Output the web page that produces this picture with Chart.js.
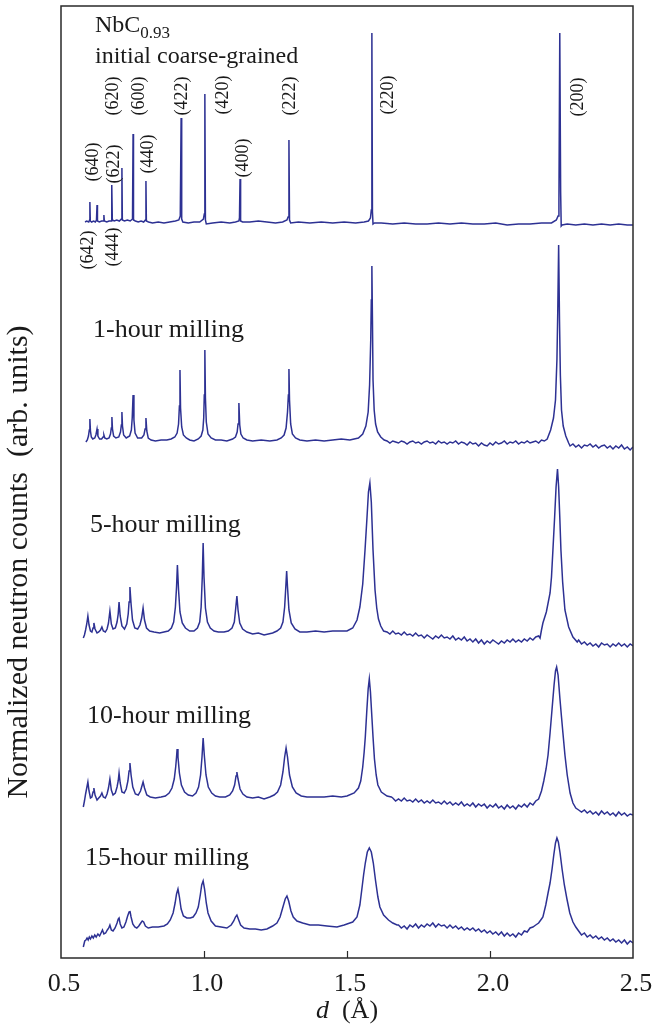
<!DOCTYPE html>
<html lang="en">
<head>
<meta charset="UTF-8">
<title>NbC0.93 neutron diffraction - milling series</title>
<script src="https://cdn.jsdelivr.net/npm/chart.js"></script>
<style>
  html, body { margin: 0; padding: 0; background: #fff; }
  #wrap { width: 654px; height: 1026px; position: relative; }
</style>
</head>
<body>
<div id="wrap"><canvas id="chart"></canvas></div>
<script>
// x axis (d-spacing, Angstrom)
const xTicks = [0.5, 1.0, 1.5, 2.0, 2.5];

// panel labels and vertical offsets of each pattern (arb. units)
const panelNames = ['initial coarse-grained', '1-hour milling', '5-hour milling', '10-hour milling', '15-hour milling'];
const panelBaseline = [736, 518, 326, 161, 31];

// [d, counts above panel baseline]
const initialCoarse = [
  [0.584,0],[0.590,1],[0.597,0],[0.600,2],[0.601,20],[0.6025,1],[0.607,0],[0.614,1],[0.620,0],[0.624,2],[0.626,17],[0.6275,1],
  [0.634,0],[0.642,1],[0.648,1],[0.650,7],[0.6515,1],[0.660,0],[0.668,1],[0.675,1],[0.677,4],[0.678,37],[0.6795,2],[0.686,1],
  [0.695,2],[0.704,1],[0.711,3],[0.713,54],[0.7145,2],[0.722,1],[0.732,2],[0.742,1],[0.750,3],[0.752,88],[0.7535,2],[0.760,1],
  [0.770,0],[0.780,1],[0.789,0],[0.795,2],[0.797,41],[0.7985,1],[0.806,0],[0.820,-1],[0.840,0],[0.860,-1],[0.880,0],[0.900,1],
  [0.912,2],[0.917,6],[0.920,104],[0.922,3],[0.926,0],[0.945,-1],[0.965,0],[0.985,0],[0.998,3],[1.001,8],[1.003,128],[1.005,2],
  [1.008,-2],[1.030,-1],[1.060,0],[1.090,-1],[1.110,0],[1.122,1],[1.124,4],[1.126,43],[1.128,1],[1.135,0],[1.160,0],[1.190,1],
  [1.220,0],[1.250,-1],[1.275,0],[1.290,2],[1.294,5],[1.297,82],[1.299,2],[1.303,-1],[1.330,0],[1.370,-1],[1.410,0],[1.450,-1],
  [1.490,0],[1.530,-1],[1.560,0],[1.575,1],[1.582,4],[1.585,12],[1.587,189],[1.589,10],[1.591,-2],[1.596,-1],[1.620,-1],[1.660,-2],
  [1.700,-1],[1.740,-2],[1.780,-2],[1.820,-1],[1.860,-2],[1.900,-1],[1.940,-2],[1.980,-2],[2.020,-1],[2.060,-3],[2.100,-2],[2.140,-2],
  [2.180,-1],[2.215,-1],[2.232,2],[2.238,6],[2.241,20],[2.244,189],[2.247,30],[2.249,-4],[2.252,-3],[2.270,-2],[2.300,-3],[2.330,-2],
  [2.360,-3],[2.390,-2],[2.420,-3],[2.450,-2],[2.480,-3],[2.500,-3]
];

const milled1h = [
  [0.587,-2],[0.592,0],[0.596,4],[0.599,10],[0.601,21],[0.603,9],[0.606,3],[0.611,1],[0.618,2],[0.622,5],[0.626,11],[0.629,4],
  [0.635,1],[0.642,1],[0.647,3],[0.650,5],[0.653,2],[0.660,1],[0.668,2],[0.673,6],[0.676,12],[0.678,23],[0.680,11],[0.684,4],
  [0.692,2],[0.702,3],[0.708,8],[0.711,15],[0.713,28],[0.715,14],[0.719,5],[0.728,2],[0.740,4],[0.746,10],[0.749,22],[0.752,45],
  [0.755,20],[0.759,7],[0.768,2],[0.782,2],[0.790,5],[0.794,11],[0.797,22],[0.800,9],[0.805,2],[0.815,0],[0.830,-1],[0.850,0],
  [0.870,0],[0.885,1],[0.898,3],[0.906,7],[0.911,16],[0.914,34],[0.916,70],[0.918,32],[0.922,13],[0.928,5],[0.938,2],[0.950,0],
  [0.965,-1],[0.980,1],[0.990,4],[0.996,10],[0.999,22],[1.001,45],[1.003,90],[1.005,42],[1.008,18],[1.014,6],[1.025,2],[1.040,0],
  [1.060,0],[1.080,-1],[1.100,1],[1.110,3],[1.116,8],[1.119,16],[1.122,37],[1.125,15],[1.129,6],[1.137,2],[1.150,0],[1.170,-1],
  [1.200,0],[1.230,-1],[1.255,0],[1.270,2],[1.280,5],[1.287,12],[1.292,28],[1.295,45],[1.297,71],[1.299,40],[1.303,16],[1.309,6],
  [1.320,2],[1.335,0],[1.360,-1],[1.390,0],[1.420,-1],[1.450,0],[1.480,1],[1.510,0],[1.540,2],[1.555,6],[1.566,14],[1.574,28],
  [1.579,55],[1.583,100],[1.585,140],[1.587,174],[1.589,120],[1.591,60],[1.595,30],[1.600,16],[1.607,8],[1.618,3],[1.630,0],
  [1.64,-1],[1.65,-3],[1.66,-1],[1.67,-2],[1.68,-3],[1.69,-1],[1.70,-2],[1.71,-4],[1.72,-2],[1.73,-1],[1.74,-3],[1.75,-2],
  [1.76,-4],[1.77,-2],[1.78,-1],[1.79,-3],[1.80,-2],[1.81,-4],[1.82,-1],[1.83,-3],[1.84,-2],[1.85,-4],[1.86,-2],[1.87,-3],
  [1.88,-1],[1.89,-4],[1.90,-2],[1.91,-3],[1.92,-5],[1.93,-2],[1.94,-4],[1.95,-3],[1.96,-6],[1.97,-3],[1.98,-5],[1.99,-6],
  [2.00,-3],[2.01,-5],[2.02,-2],[2.03,-4],[2.04,-3],[2.05,-1],[2.06,-4],[2.07,-2],[2.08,-3],[2.09,-1],[2.10,-4],[2.11,-2],
  [2.12,-3],[2.13,-1],[2.14,-3],[2.15,-2],[2.16,-1],[2.17,-3],[2.18,0],[2.19,-1],[2.200,1],[2.212,10],[2.222,22],[2.229,40],
  [2.234,80],[2.237,130],[2.240,195],[2.243,120],[2.246,65],[2.250,30],[2.256,14],[2.265,4],[2.275,-3],[2.28,-6],[2.29,-4],
  [2.30,-7],[2.31,-5],[2.32,-8],[2.33,-5],[2.34,-6],[2.35,-4],[2.36,-7],[2.37,-5],[2.38,-8],[2.39,-6],[2.40,-5],[2.41,-8],
  [2.42,-6],[2.43,-9],[2.44,-6],[2.45,-8],[2.46,-5],[2.47,-9],[2.48,-7],[2.49,-10],[2.50,-7]
];

const milled5h = [
  [0.578,-6],[0.582,-3],[0.586,2],[0.590,8],[0.594,16],[0.598,7],[0.603,1],[0.608,0],[0.612,4],[0.615,9],[0.619,3],[0.626,-1],
  [0.632,0],[0.638,2],[0.643,5],[0.648,1],[0.655,0],[0.661,3],[0.666,9],[0.671,21],[0.676,8],[0.682,3],[0.690,4],[0.696,10],
  [0.700,18],[0.703,30],[0.707,16],[0.713,6],[0.722,3],[0.730,8],[0.735,18],[0.738,30],[0.741,45],[0.745,28],[0.750,12],[0.758,4],
  [0.768,3],[0.776,7],[0.782,14],[0.787,24],[0.792,12],[0.799,4],[0.810,1],[0.825,0],[0.845,-1],[0.860,0],[0.875,1],[0.886,4],
  [0.894,10],[0.900,25],[0.904,45],[0.907,67],[0.911,42],[0.916,20],[0.924,9],[0.935,4],[0.950,1],[0.965,1],[0.977,4],[0.985,10],
  [0.990,25],[0.994,55],[0.997,89],[1.000,55],[1.005,24],[1.012,10],[1.022,4],[1.035,1],[1.050,0],[1.070,0],[1.085,1],[1.098,4],
  [1.106,10],[1.111,24],[1.115,36],[1.119,22],[1.125,9],[1.135,3],[1.150,0],[1.170,-2],[1.190,-1],[1.210,-3],[1.225,-2],[1.240,-1],
  [1.255,1],[1.268,4],[1.276,10],[1.282,25],[1.286,45],[1.289,61],[1.292,45],[1.297,22],[1.305,9],[1.318,3],[1.335,0],[1.360,0],
  [1.390,1],[1.420,0],[1.450,1],[1.480,1],[1.500,1],[1.520,4],[1.535,12],[1.545,25],[1.555,48],[1.563,82],[1.570,115],[1.575,140],
  [1.580,149],[1.585,130],[1.591,82],[1.598,42],[1.604,24],[1.610,13],[1.618,6],[1.628,1],
  [1.64,0],[1.65,-2],[1.66,1],[1.67,-2],[1.68,-1],[1.69,-3],[1.70,0],[1.71,-3],[1.72,-2],[1.73,-4],[1.74,-1],[1.75,-4],
  [1.76,-3],[1.77,-6],[1.78,-3],[1.79,-5],[1.80,-7],[1.81,-4],[1.82,-6],[1.83,-3],[1.84,-6],[1.85,-5],[1.86,-7],[1.87,-4],
  [1.88,-8],[1.89,-6],[1.90,-8],[1.91,-5],[1.92,-9],[1.93,-7],[1.94,-10],[1.95,-7],[1.96,-11],[1.97,-8],[1.98,-12],[1.99,-9],
  [2.00,-11],[2.01,-8],[2.02,-10],[2.03,-12],[2.04,-9],[2.05,-11],[2.06,-8],[2.07,-10],[2.08,-7],[2.09,-10],[2.10,-8],[2.11,-10],
  [2.12,-7],[2.13,-9],[2.14,-6],[2.15,-8],[2.16,-5],[2.17,-4],[2.175,-6],[2.180,2],[2.185,9],[2.197,20],[2.210,39],[2.215,55],
  [2.220,82],[2.226,115],[2.231,145],[2.236,163],[2.240,145],[2.244,115],[2.248,82],[2.254,50],[2.262,22],[2.275,5],[2.290,-5],
  [2.305,-10],[2.31,-8],[2.32,-12],[2.33,-10],[2.34,-13],[2.35,-11],[2.36,-14],[2.37,-12],[2.38,-15],[2.39,-11],[2.40,-13],
  [2.41,-12],[2.42,-15],[2.43,-12],[2.44,-14],[2.45,-11],[2.46,-14],[2.47,-12],[2.48,-15],[2.49,-12],[2.50,-14]
];

const milled10h = [
  [0.578,-10],[0.582,-4],[0.586,3],[0.590,9],[0.594,15],[0.598,6],[0.603,-1],[0.608,0],[0.612,5],[0.615,9],[0.619,2],[0.626,-3],
  [0.632,-1],[0.638,1],[0.643,4],[0.648,0],[0.655,-1],[0.661,3],[0.666,9],[0.671,18],[0.676,7],[0.682,2],[0.690,4],[0.696,10],
  [0.700,16],[0.703,24],[0.707,14],[0.713,5],[0.721,4],[0.728,8],[0.734,16],[0.738,26],[0.741,34],[0.745,22],[0.751,10],[0.760,3],
  [0.770,2],[0.778,6],[0.783,11],[0.787,15],[0.792,9],[0.800,2],[0.812,0],[0.830,-1],[0.850,0],[0.865,1],[0.878,4],[0.888,9],
  [0.896,18],[0.901,30],[0.904,40],[0.906,48],[0.909,40],[0.914,24],[0.921,12],[0.932,5],[0.945,2],[0.960,1],[0.972,4],[0.981,10],
  [0.988,22],[0.993,40],[0.997,59],[1.001,42],[1.007,22],[1.015,10],[1.027,4],[1.040,1],[1.055,0],[1.075,0],[1.090,2],[1.100,6],
  [1.107,12],[1.112,21],[1.115,25],[1.119,18],[1.126,8],[1.136,3],[1.150,0],[1.170,-1],[1.190,0],[1.210,-2],[1.230,0],[1.245,2],
  [1.257,5],[1.268,12],[1.276,25],[1.282,40],[1.287,49],[1.292,40],[1.299,22],[1.309,10],[1.322,4],[1.340,1],[1.360,0],[1.390,0],
  [1.420,0],[1.450,1],[1.480,0],[1.500,1],[1.525,4],[1.540,9],[1.548,16],[1.555,30],[1.560,45],[1.564,60],[1.569,85],[1.574,108],
  [1.578,118],[1.582,105],[1.587,80],[1.591,60],[1.596,38],[1.602,22],[1.608,12],[1.620,5],[1.640,1],[1.655,0],
  [1.66,-1],[1.67,-4],[1.68,-2],[1.69,-4],[1.70,-1],[1.71,-4],[1.72,-3],[1.73,-5],[1.74,-2],[1.75,-5],[1.76,-3],[1.77,-6],
  [1.78,-4],[1.79,-6],[1.80,-3],[1.81,-6],[1.82,-5],[1.83,-7],[1.84,-4],[1.85,-7],[1.86,-5],[1.87,-8],[1.88,-6],[1.89,-8],
  [1.90,-5],[1.91,-9],[1.92,-7],[1.93,-9],[1.94,-6],[1.95,-10],[1.96,-7],[1.97,-9],[1.98,-7],[1.99,-11],[2.00,-8],[2.01,-10],
  [2.02,-7],[2.03,-11],[2.04,-9],[2.05,-12],[2.06,-8],[2.07,-11],[2.08,-9],[2.09,-12],[2.10,-8],[2.11,-10],[2.12,-7],[2.13,-10],
  [2.14,-6],[2.15,-8],[2.16,-4],[2.17,-2],[2.18,6],[2.188,16],[2.196,28],[2.203,42],[2.210,64],[2.217,88],[2.224,112],[2.229,126],
  [2.233,130],[2.238,122],[2.244,100],[2.250,80],[2.255,64],[2.262,42],[2.270,22],[2.280,4],[2.290,-6],[2.300,-11],
  [2.31,-13],[2.32,-15],[2.33,-13],[2.34,-16],[2.35,-14],[2.36,-17],[2.37,-15],[2.38,-18],[2.39,-14],[2.40,-17],[2.41,-15],
  [2.42,-18],[2.43,-16],[2.44,-19],[2.45,-15],[2.46,-18],[2.47,-16],[2.48,-19],[2.49,-17],[2.50,-18]
];

const milled15h = [
  [0.578,-20],[0.583,-14],[0.587,-13],[0.591,-11],[0.595,-13],[0.599,-10],[0.603,-12],[0.608,-9],[0.613,-11],[0.618,-8],
  [0.623,-10],[0.629,-7],[0.635,-9],[0.640,-6],[0.645,-3],[0.650,-7],[0.656,-6],[0.662,-3],[0.667,-1],[0.671,2],[0.676,-3],
  [0.682,-4],[0.689,-1],[0.696,4],[0.700,8],[0.703,9],[0.707,3],[0.713,-1],[0.720,0],[0.727,5],[0.733,11],[0.738,15],[0.741,16],
  [0.745,10],[0.751,3],[0.758,0],[0.765,-1],[0.772,1],[0.779,4],[0.784,6],[0.789,5],[0.795,1],[0.805,-1],[0.820,0],[0.840,0],
  [0.860,1],[0.872,3],[0.882,7],[0.892,14],[0.899,24],[0.904,33],[0.909,38],[0.914,30],[0.920,18],[0.928,11],[0.940,9],[0.952,9],
  [0.962,10],[0.972,14],[0.980,20],[0.987,32],[0.992,42],[0.997,46],[1.002,38],[1.008,24],[1.014,14],[1.025,6],[1.040,1],[1.060,0],
  [1.080,-1],[1.095,2],[1.104,6],[1.110,10],[1.115,12],[1.120,8],[1.128,2],[1.140,-1],[1.160,-2],[1.180,-2],[1.200,-3],[1.220,-2],
  [1.240,1],[1.255,4],[1.266,10],[1.276,20],[1.284,28],[1.290,31],[1.296,26],[1.304,16],[1.312,10],[1.325,6],[1.345,4],[1.370,2],
  [1.400,2],[1.430,1],[1.465,0],[1.490,2],[1.510,4],[1.520,5],[1.535,10],[1.545,22],[1.552,38],[1.558,52],[1.564,64],[1.571,75],
  [1.578,79],[1.585,75],[1.592,64],[1.600,46],[1.608,30],[1.615,20],[1.628,12],[1.645,7],[1.660,4],[1.675,2],
  [1.68,2],[1.69,-1],[1.70,1],[1.71,-2],[1.72,2],[1.73,0],[1.74,3],[1.75,-1],[1.76,2],[1.77,0],[1.78,3],[1.79,1],[1.80,4],
  [1.81,0],[1.82,3],[1.83,1],[1.84,2],[1.85,-1],[1.86,2],[1.87,-1],[1.88,1],[1.89,-2],[1.90,0],[1.91,-3],[1.92,-1],[1.93,-3],
  [1.94,-1],[1.95,-4],[1.96,-2],[1.97,-5],[1.98,-3],[1.99,-6],[2.00,-4],[2.01,-7],[2.02,-5],[2.03,-8],[2.04,-5],[2.05,-9],
  [2.06,-6],[2.07,-9],[2.08,-7],[2.09,-10],[2.10,-6],[2.11,-8],[2.12,-4],[2.13,-5],[2.14,-1],[2.15,0],[2.16,2],[2.17,4],
  [2.180,8],[2.185,10],[2.195,22],[2.203,34],[2.210,44],[2.217,58],[2.223,72],[2.229,84],[2.234,89],[2.239,85],[2.245,74],
  [2.252,58],[2.260,42],[2.269,28],[2.279,14],[2.290,5],[2.300,0],[2.310,-4],[2.32,-8],[2.33,-6],[2.34,-10],[2.35,-8],
  [2.36,-11],[2.37,-9],[2.38,-12],[2.39,-10],[2.40,-13],[2.41,-11],[2.42,-14],[2.43,-12],[2.44,-15],[2.45,-13],[2.46,-16],
  [2.47,-13],[2.48,-17],[2.49,-14],[2.50,-16]
];

const patterns = [initialCoarse, milled1h, milled5h, milled10h, milled15h];

// reflection labels on the top pattern: text, d, height (arb. units)
const hklText = ['(642)', '(444)', '(640)', '(622)', '(620)', '(600)', '(440)', '(422)', '(420)', '(400)', '(222)', '(220)', '(200)'];
const hklD    = [0.591, 0.678, 0.608, 0.682, 0.678, 0.769, 0.801, 0.920, 1.063, 1.133, 1.297, 1.640, 2.304];
const hklY    = [708, 711, 796, 794, 862, 862, 804, 862, 863, 800, 862, 863, 861];

// left edge (d) and baseline (arb. units) of the panel captions
const captionD = [0.619, 0.612, 0.601, 0.591, 0.584];
const captionY = [895, 621, 426, 235, 93];

const SERIF = "'Liberation Serif', 'Times New Roman', serif";
const LINE_COLOR = '#2d3193';

const datasets = patterns.map((pts, i) => ({
  label: panelNames[i],
  data: pts.map(p => ({ x: p[0], y: p[1] + panelBaseline[i] })),
  borderColor: LINE_COLOR,
  borderWidth: 1.5,
  pointRadius: 0,
  tension: 0,
  fill: false
}));

const decor = {
  id: 'decor',
  afterDraw(chart) {
    const ctx = chart.ctx;
    const a = chart.chartArea;
    const xs = chart.scales.x, ys = chart.scales.y;
    ctx.save();

    // frame
    ctx.strokeStyle = '#2a2a2a';
    ctx.lineWidth = 1.5;
    ctx.strokeRect(a.left, a.top, a.right - a.left, a.bottom - a.top);

    // inward ticks on the bottom axis
    ctx.lineWidth = 1.2;
    xTicks.slice(1, -1).forEach(v => {
      const px = Math.round(xs.getPixelForValue(v)) + 0.5;
      ctx.beginPath();
      ctx.moveTo(px, a.bottom);
      ctx.lineTo(px, a.bottom - 7);
      ctx.stroke();
    });

    ctx.fillStyle = '#1a1a1a';
    ctx.textBaseline = 'alphabetic';
    ctx.textAlign = 'left';

    // title NbC0.93
    const tx = xs.getPixelForValue(captionD[0]);
    const tyTitle = ys.getPixelForValue(926);
    ctx.font = '24px ' + SERIF;
    ctx.fillText('NbC', tx, tyTitle);
    const w = ctx.measureText('NbC').width;
    ctx.font = '17px ' + SERIF;
    ctx.fillText('0.93', tx + w, tyTitle + 6);

    // panel captions
    panelNames.forEach((name, i) => {
      ctx.font = (i === 0 ? '24px ' : '26px ') + SERIF;
      ctx.fillText(name, xs.getPixelForValue(captionD[i]), ys.getPixelForValue(captionY[i]));
    });

    // reflection labels, rotated
    ctx.font = '18px ' + SERIF;
    ctx.textAlign = 'center';
    ctx.textBaseline = 'middle';
    hklText.forEach((t, i) => {
      ctx.save();
      ctx.translate(xs.getPixelForValue(hklD[i]), ys.getPixelForValue(hklY[i]));
      ctx.rotate(-Math.PI / 2);
      ctx.fillText(t, 0, 1);
      ctx.restore();
    });

    // y axis title
    ctx.save();
    ctx.translate(19, 562);
    ctx.rotate(-Math.PI / 2);
    ctx.font = '30px ' + SERIF;
    ctx.fillText('Normalized neutron counts  (arb. units)', 0, 0);
    ctx.restore();

    // x axis title: italic d (Å)
    ctx.textBaseline = 'alphabetic';
    ctx.textAlign = 'left';
    ctx.font = 'italic 26px ' + SERIF;
    const dW = ctx.measureText('d').width;
    ctx.font = '26px ' + SERIF;
    const rest = '  (\u00C5)';
    const rW = ctx.measureText(rest).width;
    const cx = (a.left + a.right) / 2;
    const x0 = cx - (dW + rW) / 2;
    ctx.font = 'italic 26px ' + SERIF;
    ctx.fillText('d', x0, 1018);
    ctx.font = '26px ' + SERIF;
    ctx.fillText(rest, x0 + dW, 1018);

    ctx.restore();
  }
};

new Chart(document.getElementById('chart'), {
  type: 'line',
  data: { datasets },
  options: {
    responsive: true,
    maintainAspectRatio: false,
    animation: false,
    layout: { padding: { left: 61, right: 21, top: 6, bottom: 0 } },
    plugins: { legend: { display: false }, tooltip: { enabled: false } },
    scales: {
      x: {
        type: 'linear',
        min: 0.5,
        max: 2.5,
        grid: { display: false },
        border: { display: false },
        afterBuildTicks: s => { s.ticks = xTicks.map(v => ({ value: v })); },
        afterFit: s => { s.height = 68; },
        ticks: {
          padding: 3,
          labelOffset: 3,
          maxRotation: 0,
          color: '#1a1a1a',
          font: { family: SERIF, size: 26 },
          callback: v => Number(v).toFixed(1)
        }
      },
      y: { display: false, min: 0, max: 952 }
    }
  },
  plugins: [decor]
});
</script>
</body>
</html>
